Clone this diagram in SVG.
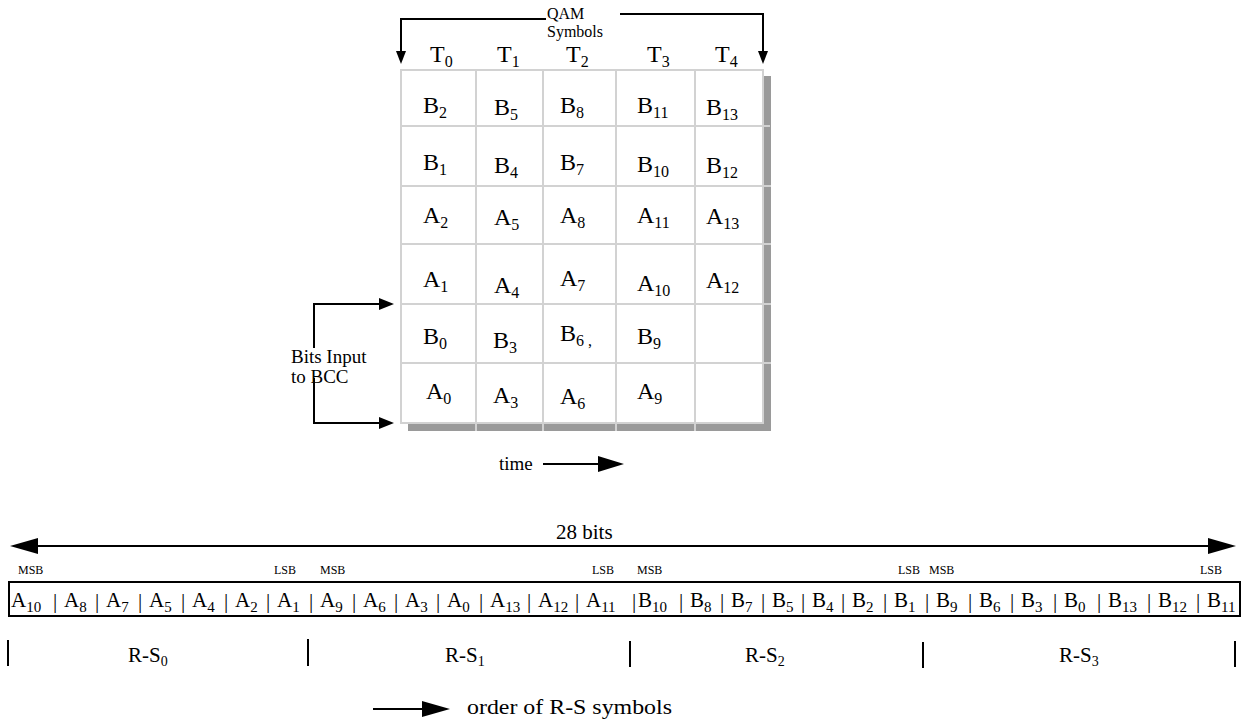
<svg xmlns="http://www.w3.org/2000/svg" width="1244" height="723" viewBox="0 0 1244 723">
<style>
text{font-family:"Liberation Serif","Times New Roman",serif;fill:#000}
.c{font-size:24px}
.s{font-size:16px}
.lbl{font-size:19px}
.q{font-size:16px}
.ms{font-size:12px}
.bt{font-size:21px}
.bs{font-size:15px}
.bar{font-size:21px;text-anchor:middle}
.rs{font-size:21px}
.rss{font-size:14px}
.ln{stroke:#000;stroke-width:2;fill:none}
.ah{fill:#000;stroke:none}
.grid{stroke:#d2d2d2;stroke-width:2;fill:none}
</style>
<rect width="1244" height="723" fill="#fff"/>

<g id="matrix">
  <rect x="408" y="76" width="363" height="355" fill="#9a9a9a"/>
  <rect x="401" y="70" width="362" height="353" fill="#fff"/>
  <g class="grid">
    <rect x="401" y="70" width="362" height="353"/>
    <path d="M476,70V431M543,70V431M616,70V431M695,70V431"/>
    <path d="M401,126H770M401,186H771M401,244H771M401,304H771M401,363H771"/>
  </g>
</g>

<g id="headers">
  <text class="c" x="430" y="62">T<tspan class="s" dy="5">0</tspan></text>
  <text class="c" x="497" y="62">T<tspan class="s" dy="5">1</tspan></text>
  <text class="c" x="566" y="62">T<tspan class="s" dy="5">2</tspan></text>
  <text class="c" x="647" y="62">T<tspan class="s" dy="5">3</tspan></text>
  <text class="c" x="715" y="62">T<tspan class="s" dy="5">4</tspan></text>
</g>

<g id="qam-label">
  <text class="q" x="547" y="19">QAM</text>
  <text class="q" x="547" y="37">Symbols</text>
</g>

<g id="cells">
  <g id="r1">
    <text class="c" x="423" y="113">B<tspan class="s" dy="5">2</tspan></text>
    <text class="c" x="494" y="115">B<tspan class="s" dy="5">5</tspan></text>
    <text class="c" x="560" y="113">B<tspan class="s" dy="5">8</tspan></text>
    <text class="c" x="637" y="113">B<tspan class="s" dy="5">11</tspan></text>
    <text class="c" x="706" y="115">B<tspan class="s" dy="5">13</tspan></text>
  </g>
  <g id="r2">
    <text class="c" x="423" y="170">B<tspan class="s" dy="5">1</tspan></text>
    <text class="c" x="494" y="173">B<tspan class="s" dy="5">4</tspan></text>
    <text class="c" x="560" y="170">B<tspan class="s" dy="5">7</tspan></text>
    <text class="c" x="637" y="172">B<tspan class="s" dy="5">10</tspan></text>
    <text class="c" x="706" y="173">B<tspan class="s" dy="5">12</tspan></text>
  </g>
  <g id="r3">
    <text class="c" x="423" y="223">A<tspan class="s" dy="5">2</tspan></text>
    <text class="c" x="494" y="225">A<tspan class="s" dy="5">5</tspan></text>
    <text class="c" x="560" y="223">A<tspan class="s" dy="5">8</tspan></text>
    <text class="c" x="637" y="223">A<tspan class="s" dy="5">11</tspan></text>
    <text class="c" x="706" y="224">A<tspan class="s" dy="5">13</tspan></text>
  </g>
  <g id="r4">
    <text class="c" x="423" y="287">A<tspan class="s" dy="5">1</tspan></text>
    <text class="c" x="494" y="293">A<tspan class="s" dy="5">4</tspan></text>
    <text class="c" x="560" y="286">A<tspan class="s" dy="5">7</tspan></text>
    <text class="c" x="637" y="291">A<tspan class="s" dy="5">10</tspan></text>
    <text class="c" x="706" y="288">A<tspan class="s" dy="5">12</tspan></text>
  </g>
  <g id="r5">
    <text class="c" x="423" y="344">B<tspan class="s" dy="5">0</tspan></text>
    <text class="c" x="493" y="348">B<tspan class="s" dy="5">3</tspan></text>
    <text class="c" x="560" y="341">B<tspan class="s" dy="5">6 ,</tspan></text>
    <text class="c" x="637" y="344">B<tspan class="s" dy="5">9</tspan></text>
  </g>
  <g id="r6">
    <text class="c" x="426" y="399">A<tspan class="s" dy="5">0</tspan></text>
    <text class="c" x="493" y="403">A<tspan class="s" dy="5">3</tspan></text>
    <text class="c" x="560" y="404">A<tspan class="s" dy="5">6</tspan></text>
    <text class="c" x="637" y="399">A<tspan class="s" dy="5">9</tspan></text>
  </g>
</g>

<g id="bcc-label">
  <text class="lbl" x="291" y="363">Bits Input</text>
  <text class="lbl" x="291" y="383">to BCC</text>
</g>

<g id="time-label">
  <text class="lbl" x="499" y="470">time</text>
</g>

<g id="bits-label">
  <text style="font-size:21px" x="556" y="539">28 bits</text>
</g>

<g id="msb-lsb">
  <text class="ms" x="18" y="574">MSB</text>
  <text class="ms" x="274" y="574">LSB</text>
  <text class="ms" x="320" y="574">MSB</text>
  <text class="ms" x="592" y="574">LSB</text>
  <text class="ms" x="637" y="574">MSB</text>
  <text class="ms" x="898" y="574">LSB</text>
  <text class="ms" x="929" y="574">MSB</text>
  <text class="ms" x="1200" y="574">LSB</text>
</g>

<g id="bit-row">
  <rect x="9" y="582" width="1231" height="34" fill="none" stroke="#000" stroke-width="2"/>
  <text class="bt" x="11" y="607">A<tspan class="bs" dy="5">10</tspan></text>
  <text class="bt" x="64" y="607">A<tspan class="bs" dy="5">8</tspan></text>
  <text class="bt" x="106" y="607">A<tspan class="bs" dy="5">7</tspan></text>
  <text class="bt" x="149" y="607">A<tspan class="bs" dy="5">5</tspan></text>
  <text class="bt" x="192" y="607">A<tspan class="bs" dy="5">4</tspan></text>
  <text class="bt" x="235" y="607">A<tspan class="bs" dy="5">2</tspan></text>
  <text class="bt" x="277" y="607">A<tspan class="bs" dy="5">1</tspan></text>
  <text class="bt" x="320" y="607">A<tspan class="bs" dy="5">9</tspan></text>
  <text class="bt" x="363" y="607">A<tspan class="bs" dy="5">6</tspan></text>
  <text class="bt" x="405" y="607">A<tspan class="bs" dy="5">3</tspan></text>
  <text class="bt" x="447" y="607">A<tspan class="bs" dy="5">0</tspan></text>
  <text class="bt" x="490" y="607">A<tspan class="bs" dy="5">13</tspan></text>
  <text class="bt" x="538" y="607">A<tspan class="bs" dy="5">12</tspan></text>
  <text class="bt" x="586" y="607">A<tspan class="bs" dy="5">11</tspan></text>
  <text class="bt" x="638" y="607">B<tspan class="bs" dy="5">10</tspan></text>
  <text class="bt" x="690" y="607">B<tspan class="bs" dy="5">8</tspan></text>
  <text class="bt" x="731" y="607">B<tspan class="bs" dy="5">7</tspan></text>
  <text class="bt" x="772" y="607">B<tspan class="bs" dy="5">5</tspan></text>
  <text class="bt" x="812" y="607">B<tspan class="bs" dy="5">4</tspan></text>
  <text class="bt" x="852" y="607">B<tspan class="bs" dy="5">2</tspan></text>
  <text class="bt" x="894" y="607">B<tspan class="bs" dy="5">1</tspan></text>
  <text class="bt" x="936" y="607">B<tspan class="bs" dy="5">9</tspan></text>
  <text class="bt" x="979" y="607">B<tspan class="bs" dy="5">6</tspan></text>
  <text class="bt" x="1021" y="607">B<tspan class="bs" dy="5">3</tspan></text>
  <text class="bt" x="1064" y="607">B<tspan class="bs" dy="5">0</tspan></text>
  <text class="bt" x="1108" y="607">B<tspan class="bs" dy="5">13</tspan></text>
  <text class="bt" x="1158" y="607">B<tspan class="bs" dy="5">12</tspan></text>
  <text class="bt" x="1207" y="607">B<tspan class="bs" dy="5">11</tspan></text>
  <g id="separators" opacity="0.99">
    <text class="bar" x="55" y="608">|</text>
    <text class="bar" x="97" y="608">|</text>
    <text class="bar" x="140" y="608">|</text>
    <text class="bar" x="183" y="608">|</text>
    <text class="bar" x="226" y="608">|</text>
    <text class="bar" x="268" y="608">|</text>
    <text class="bar" x="311" y="608">|</text>
    <text class="bar" x="354" y="608">|</text>
    <text class="bar" x="396" y="608">|</text>
    <text class="bar" x="438" y="608">|</text>
    <text class="bar" x="481" y="608">|</text>
    <text class="bar" x="529" y="608">|</text>
    <text class="bar" x="577" y="608">|</text>
    <text class="bar" x="634" y="608">|</text>
    <text class="bar" x="681" y="608">|</text>
    <text class="bar" x="722" y="608">|</text>
    <text class="bar" x="763" y="608">|</text>
    <text class="bar" x="803" y="608">|</text>
    <text class="bar" x="843" y="608">|</text>
    <text class="bar" x="885" y="608">|</text>
    <text class="bar" x="927" y="608">|</text>
    <text class="bar" x="970" y="608">|</text>
    <text class="bar" x="1012" y="608">|</text>
    <text class="bar" x="1055" y="608">|</text>
    <text class="bar" x="1099" y="608">|</text>
    <text class="bar" x="1149" y="608">|</text>
    <text class="bar" x="1198" y="608">|</text>
  </g>
</g>

<g id="rs-labels">
  <text class="rs" x="128" y="662">R-S<tspan class="rss" dy="4">0</tspan></text>
  <text class="rs" x="445" y="662">R-S<tspan class="rss" dy="4">1</tspan></text>
  <text class="rs" x="745" y="662">R-S<tspan class="rss" dy="4">2</tspan></text>
  <text class="rs" x="1059" y="662">R-S<tspan class="rss" dy="4">3</tspan></text>
  <path class="ln" d="M8,640V666M308,639V666M630,641V667M923,642V668M1235,641V667"/>
</g>

<g id="order-label">
  <text class="rs" x="467" y="714" textLength="205" lengthAdjust="spacingAndGlyphs">order of  R-S symbols</text>
</g>

<g id="connectors">
  <path class="ln" d="M546,19H401V52"/>
  <polygon class="ah" points="396,51 406,51 401,64"/>
  <path class="ln" d="M620,14H763V52"/>
  <polygon class="ah" points="758,51 768,51 763,64"/>
  <path class="ln" d="M380,304H314V348M314,378V423H380"/>
  <polygon class="ah" points="379,298 379,310 394,304"/>
  <polygon class="ah" points="379,417 379,429 394,423"/>
  <path class="ln" d="M543,464H602"/>
  <polygon class="ah" points="598,456 598,472 624,464"/>
  <path class="ln" d="M36,546H1210"/>
  <polygon class="ah" points="38,538 38,554 10,546"/>
  <polygon class="ah" points="1208,538 1208,554 1236,546"/>
  <path class="ln" d="M373,709H426"/>
  <polygon class="ah" points="422,701 422,717 450,709"/>
</g>
</svg>
